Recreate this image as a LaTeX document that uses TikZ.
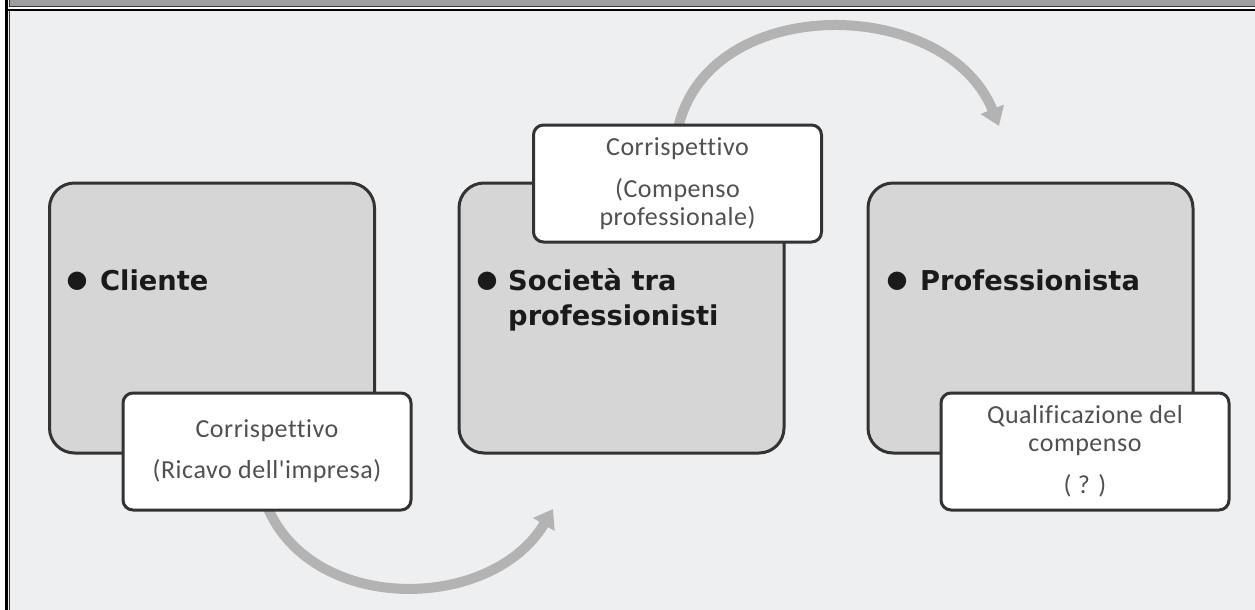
\documentclass[tikz,border=0pt]{standalone}
\usepackage{fontspec}
\usetikzlibrary{arrows.meta}
\newfontfamily\boldsans{DejaVu Sans}
\newfontfamily\labelfont[Ligatures=NoCommon,LetterSpace=2]{Carlito}
\definecolor{bgcol}{HTML}{EEEFF0}
\definecolor{bandcol}{HTML}{9E9DA0}
\definecolor{boxcol}{HTML}{D6D6D6}
\definecolor{edgecol}{HTML}{333333}
\definecolor{labtext}{HTML}{505050}
\definecolor{arrcol}{HTML}{B3B3B3}
\definecolor{maintext}{HTML}{1A1A1A}
\begin{document}
\begin{tikzpicture}[x=1pt,y=-1pt,
  mainbox/.style={draw=edgecol, line width=3pt, fill=boxcol, rounded corners=25pt,
    minimum width=325pt, minimum height=270pt, inner sep=0pt},
  labelbox/.style={draw=edgecol, line width=3pt, fill=white, rounded corners=10pt,
    minimum width=288pt, minimum height=117pt, inner sep=0pt, align=center,
    text=labtext, font=\labelfont\fontsize{26}{28}\selectfont},
  title/.style={inner sep=0pt, text=maintext, align=left,
    font=\boldsans\bfseries\fontsize{27.3}{35}\selectfont},
  bullet/.style={inner sep=0pt, text=maintext, font=\boldsans\fontsize{24}{24}\selectfont},
  flow/.style={draw=arrcol, line width=10pt, -{Triangle[length=18pt,width=24pt]}}]
\useasboundingbox (0,0) rectangle (1255,610);
% background and frame
\fill[bgcol] (0,0) rectangle (1255,610);
\fill[white] (0,0) rectangle (5,610);
\fill[bandcol] (9,0) rectangle (1255,7);
\draw[edgecol, line width=1pt] (9,7) -- (1255,7);
\draw[edgecol, line width=1pt] (9.5,0) -- (9.5,610);
\fill[white] (7,7.5) rectangle (1255,9);
\fill[black] (5,0) rectangle (7.5,610);
\fill[black] (7,9) rectangle (1255,11.5);
% main boxes
\node[mainbox] (cli) at (212,318) {};
\node[mainbox] (stp) at (621.5,318) {};
\node[mainbox] (pro) at (1030.5,318) {};
% arrows
\coordinate (a1s) at (263,495);
\coordinate (a1e) at (553,509);
\coordinate (a2s) at (676,140);
\coordinate (a2e) at (999,126);
\draw[flow] (a1s) .. controls (300,615) and (490,615) .. (a1e);
\draw[flow] (a2s) .. controls (695,-8) and (945,-8) .. (a2e);
% titles
\node[bullet] (b1) at (77,281) {●};
\node[title, anchor=base west] (t1) at (100,290) {Cliente};
\node[bullet] (b2) at (487,281) {●};
\node[title, anchor=base west] (t2) at (508,325) {Società tra\\professionisti};
\node[bullet] (b3) at (897,281) {●};
\node[title, anchor=base west] (t3) at (920,290) {Professionista};
% label boxes
\node[labelbox] (l1) at (267,451.5) {Corrispettivo\\[13pt](Ricavo dell'impresa)};
\node[labelbox] (l2) at (677.5,183.5) {Corrispettivo\\[14pt](Compenso\\professionale)};
\node[labelbox] (l3) at (1085,451.5) {Qualificazione del\\compenso\\[14pt]( ? )};
\end{tikzpicture}
\end{document}
